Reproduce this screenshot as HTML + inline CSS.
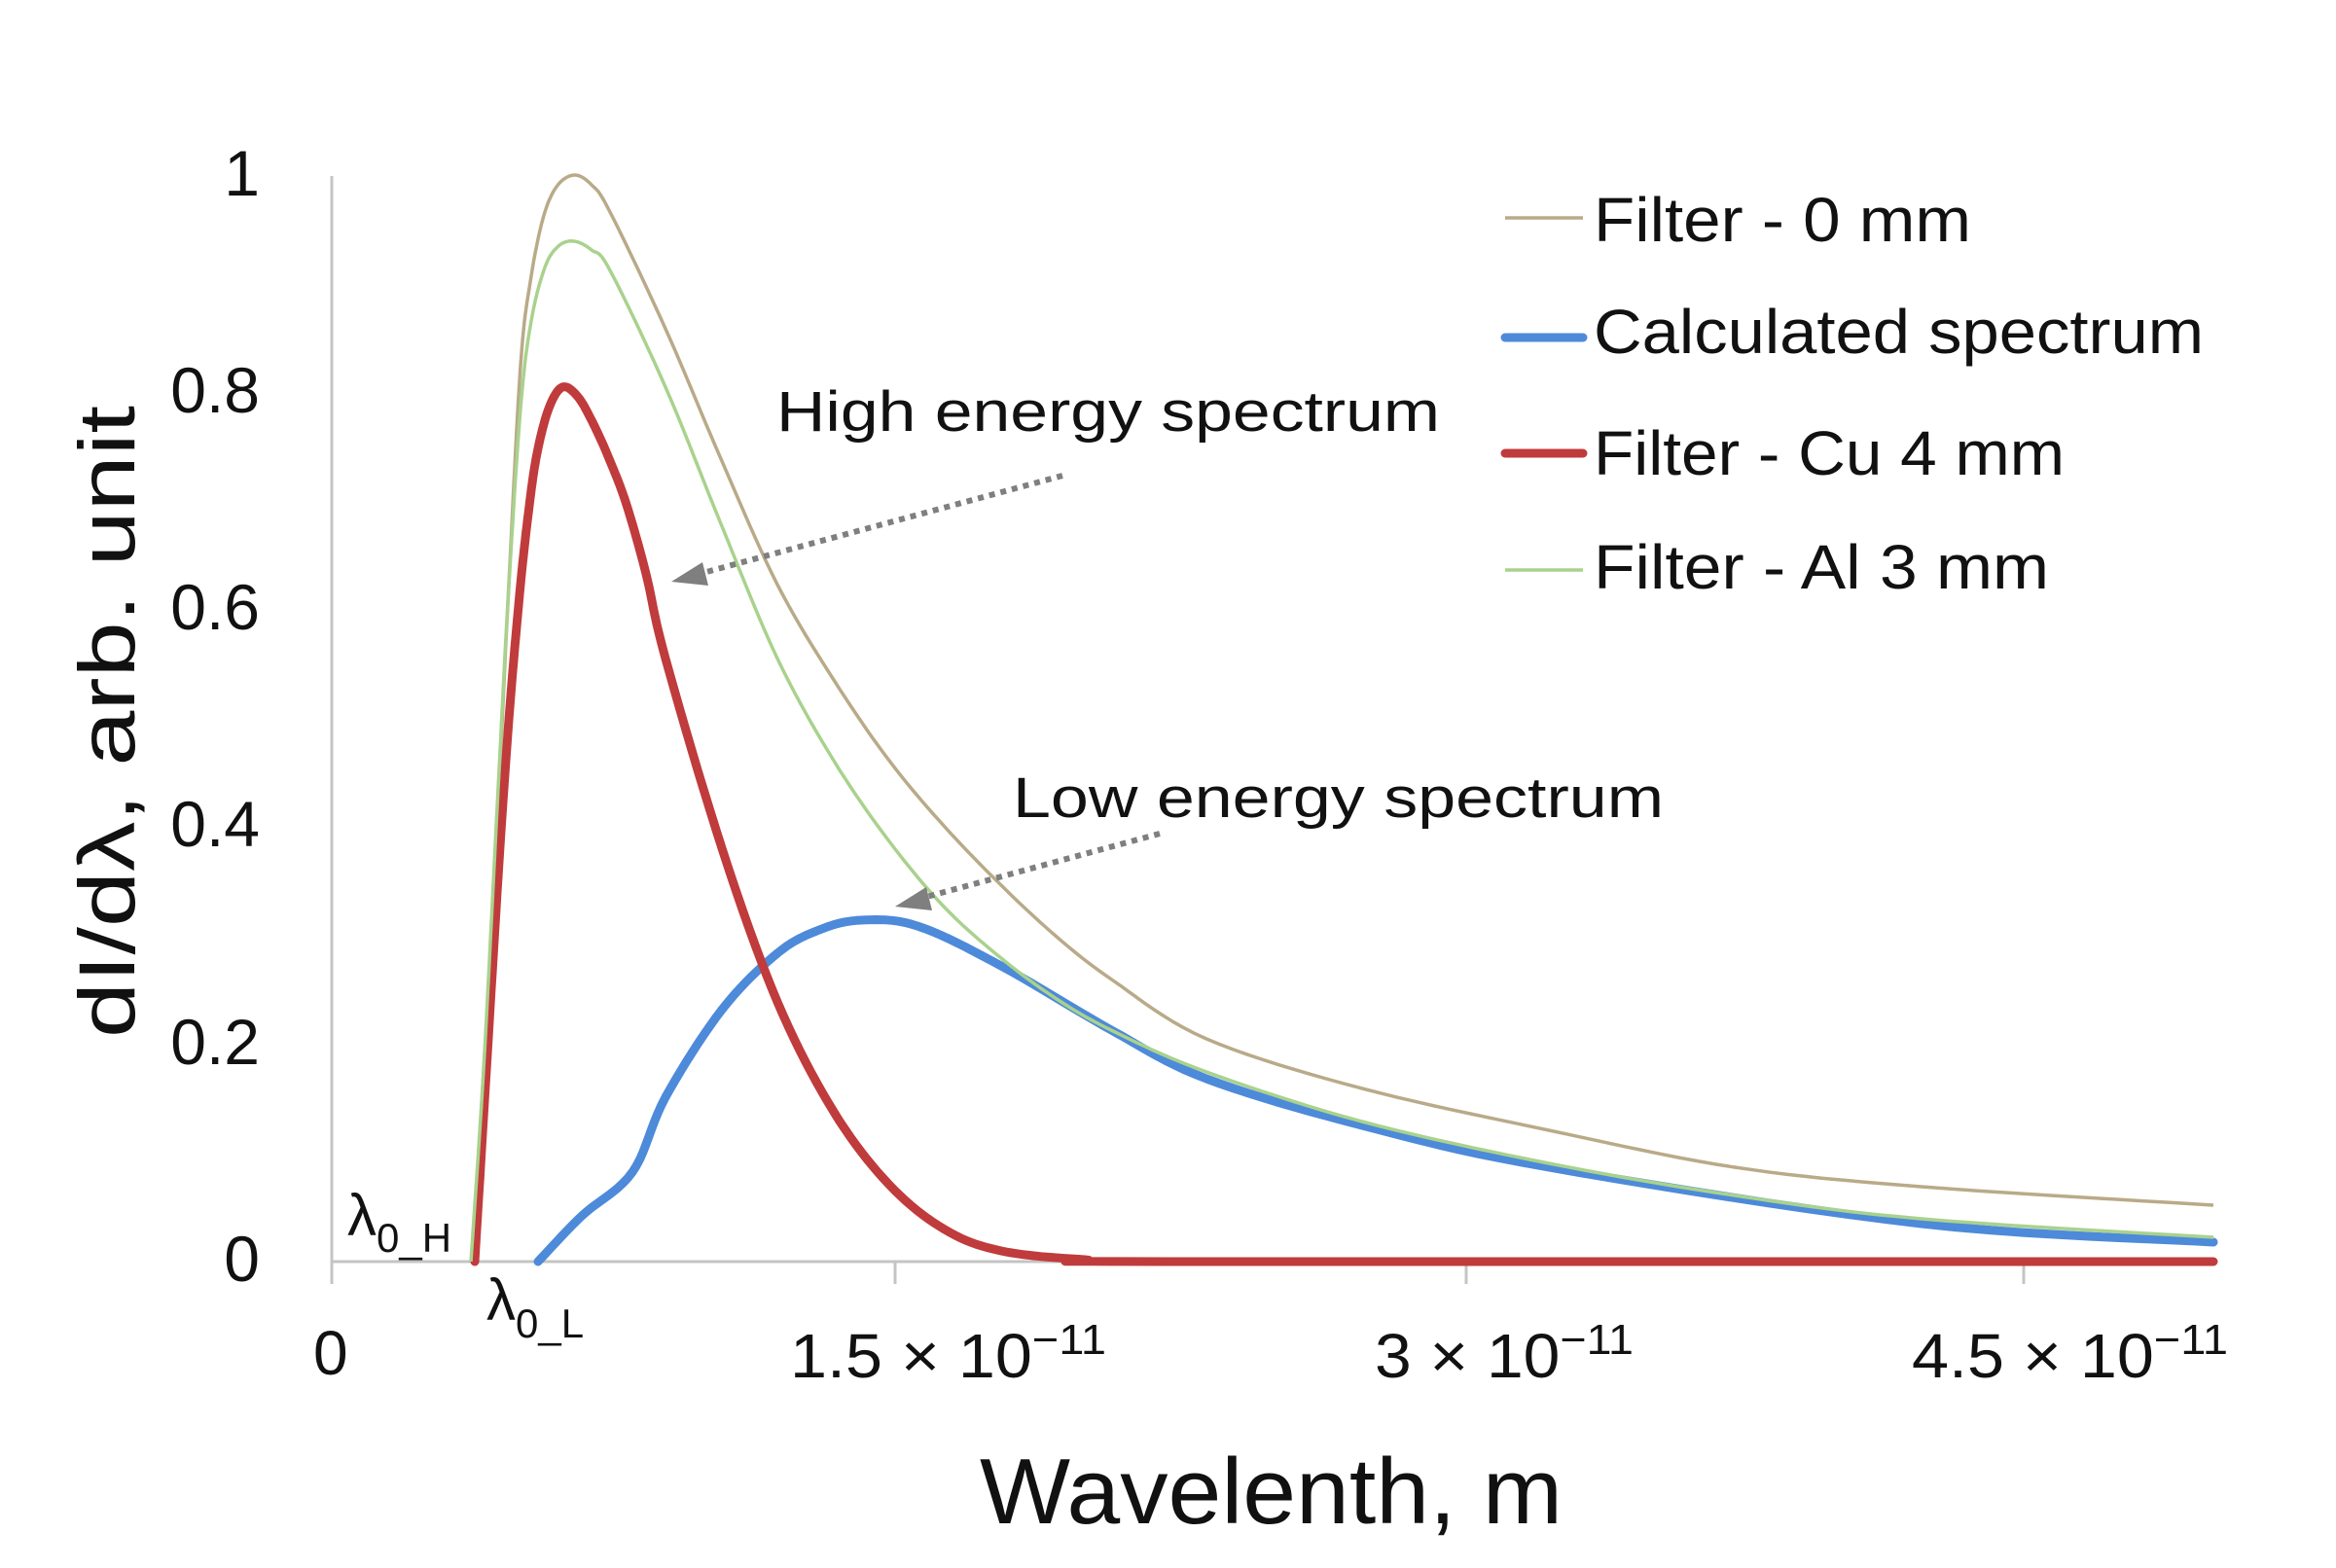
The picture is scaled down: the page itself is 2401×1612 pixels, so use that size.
<!DOCTYPE html>
<html><head><meta charset="utf-8"><style>
html,body{margin:0;padding:0;background:#fff}
svg{display:block}
text{font-family:"Liberation Sans",sans-serif;fill:#111}
</style></head><body>
<svg width="2401" height="1612" viewBox="0 0 2401 1612" xmlns="http://www.w3.org/2000/svg">
<rect width="2401" height="1612" fill="#fff"/>
<line x1="341" y1="181" x2="341" y2="1320" stroke="#c4c4c4" stroke-width="3"/>
<line x1="341" y1="1297" x2="2277" y2="1297" stroke="#c4c4c4" stroke-width="3"/>
<line x1="920" y1="1297" x2="920" y2="1320" stroke="#c4c4c4" stroke-width="3"/>
<line x1="1507" y1="1297" x2="1507" y2="1320" stroke="#c4c4c4" stroke-width="3"/>
<line x1="2080" y1="1297" x2="2080" y2="1320" stroke="#c4c4c4" stroke-width="3"/>
<g font-size="66" text-anchor="end">
<text x="267" y="201">1</text>
<text x="267" y="424">0.8</text>
<text x="267" y="647">0.6</text>
<text x="267" y="870">0.4</text>
<text x="267" y="1094">0.2</text>
<text x="267" y="1317">0</text>
</g>
<g font-size="64">
<text x="322" y="1413">0</text>
<text x="812" y="1416" textLength="325" lengthAdjust="spacingAndGlyphs">1.5 × 10<tspan font-size="44" dy="-24">−11</tspan></text>
<text x="1413" y="1416" textLength="266" lengthAdjust="spacingAndGlyphs">3 × 10<tspan font-size="44" dy="-24">−11</tspan></text>
<text x="1965" y="1416" textLength="325" lengthAdjust="spacingAndGlyphs">4.5 × 10<tspan font-size="44" dy="-24">−11</tspan></text>
</g>
<text x="357" y="1270" font-size="60">λ<tspan font-size="42" dy="17">0_H</tspan></text>
<text x="500" y="1357" font-size="60">λ<tspan font-size="42" dy="18">0_L</tspan></text>
<text x="1007" y="1566" font-size="96" textLength="599" lengthAdjust="spacingAndGlyphs">Wavelenth,  m</text>
<text transform="translate(138,1067) rotate(-90)" font-size="82" textLength="650" lengthAdjust="spacingAndGlyphs">dI/dλ, arb. unit</text>
<polyline class="s" fill="none" stroke="#b9aa88" stroke-width="3.5" stroke-linejoin="round" points="486,1297 498,1100 512,827 523,600 535,376 545,290 558,225 572,192 590,180 608,190 627,218 684,338 742,474 799,601 857,699 914,782 971,850 1029,910 1086,963 1144,1008 1240,1068 1400,1119 1592,1162 1783,1200 1975,1220 2275,1239"/>
<polyline class="s" fill="none" stroke="#4d8ad9" stroke-width="9" stroke-linejoin="round" stroke-linecap="round" points="553,1297 598,1250 650,1205 684,1128 742,1038 799,980 842,956 885,946 943,952 1029,993 1144,1060 1240,1109 1400,1157 1592,1200 1975,1258 2275,1277"/>
<polyline class="s" fill="none" stroke="#c03b3c" stroke-width="9" stroke-linejoin="round" stroke-linecap="round" points="488,1297 500,1100 512,902 523,740 535,601 544,520 552,466 564,420 578,398 594,408 610,436 627,474 644,519 664,590 684,677 742,872 799,1030 857,1143 914,1218 971,1264 1029,1286 1115,1295 1200,1297 2275,1297"/>
<polyline class="s" fill="none" stroke="#a9d28d" stroke-width="3.5" stroke-linejoin="round" points="484,1297 497,1100 511,830 522,620 535,420 546,330 560,275 574,253 590,248 608,257 627,278 684,398 742,541 799,677 857,782 914,865 971,933 1029,985 1086,1027 1144,1060 1240,1102 1400,1153 1592,1196 1783,1229 1975,1253 2275,1272"/>
<text x="798" y="443" font-size="58" textLength="682" lengthAdjust="spacingAndGlyphs">High energy spectrum</text>
<text x="1041" y="840" font-size="58" textLength="669" lengthAdjust="spacingAndGlyphs">Low energy spectrum</text>
<line x1="1092" y1="489" x2="715" y2="591" stroke="#7f7f7f" stroke-width="6" stroke-dasharray="6 6"/>
<polygon points="690,598 722,578 728,602" fill="#7f7f7f"/>
<line x1="1192" y1="857" x2="945" y2="924" stroke="#7f7f7f" stroke-width="6" stroke-dasharray="6 6"/>
<polygon points="920,932 952,912 958,936" fill="#7f7f7f"/>
<line x1="1547" y1="224" x2="1627" y2="224" stroke="#b9aa88" stroke-width="3.5"/>
<line x1="1547" y1="347" x2="1627" y2="347" stroke="#4d8ad9" stroke-width="9" stroke-linecap="round"/>
<line x1="1547" y1="466" x2="1627" y2="466" stroke="#c03b3c" stroke-width="9" stroke-linecap="round"/>
<line x1="1547" y1="586" x2="1627" y2="586" stroke="#a9d28d" stroke-width="3.5"/>
<g font-size="64">
<text x="1638" y="248" textLength="388" lengthAdjust="spacingAndGlyphs">Filter - 0 mm</text>
<text x="1638" y="363" textLength="627" lengthAdjust="spacingAndGlyphs">Calculated spectrum</text>
<text x="1638" y="488" textLength="484" lengthAdjust="spacingAndGlyphs">Filter - Cu 4 mm</text>
<text x="1638" y="605" textLength="468" lengthAdjust="spacingAndGlyphs">Filter - Al 3 mm</text>
</g>
</svg>
<script>
document.querySelectorAll('polyline.s').forEach(function(pl){
  var p=pl.getAttribute('points').trim().split(/\s+/).map(function(s){return s.split(',').map(Number);});
  var out=[];
  for(var i=0;i<p.length-1;i++){
    var p0=p[Math.max(i-1,0)],p1=p[i],p2=p[i+1],p3=p[Math.min(i+2,p.length-1)];
    for(var k=0;k<10;k++){
      var t=k/10,t2=t*t,t3=t2*t;
      var x=0.5*((2*p1[0])+(-p0[0]+p2[0])*t+(2*p0[0]-5*p1[0]+4*p2[0]-p3[0])*t2+(-p0[0]+3*p1[0]-3*p2[0]+p3[0])*t3);
      var y=0.5*((2*p1[1])+(-p0[1]+p2[1])*t+(2*p0[1]-5*p1[1]+4*p2[1]-p3[1])*t2+(-p0[1]+3*p1[1]-3*p2[1]+p3[1])*t3);
      if(y>1297)y=1297;
      out.push(x.toFixed(1)+','+y.toFixed(1));
    }
  }
  out.push(p[p.length-1].join(','));
  pl.setAttribute('points',out.join(' '));
});
</script>
</body></html>
